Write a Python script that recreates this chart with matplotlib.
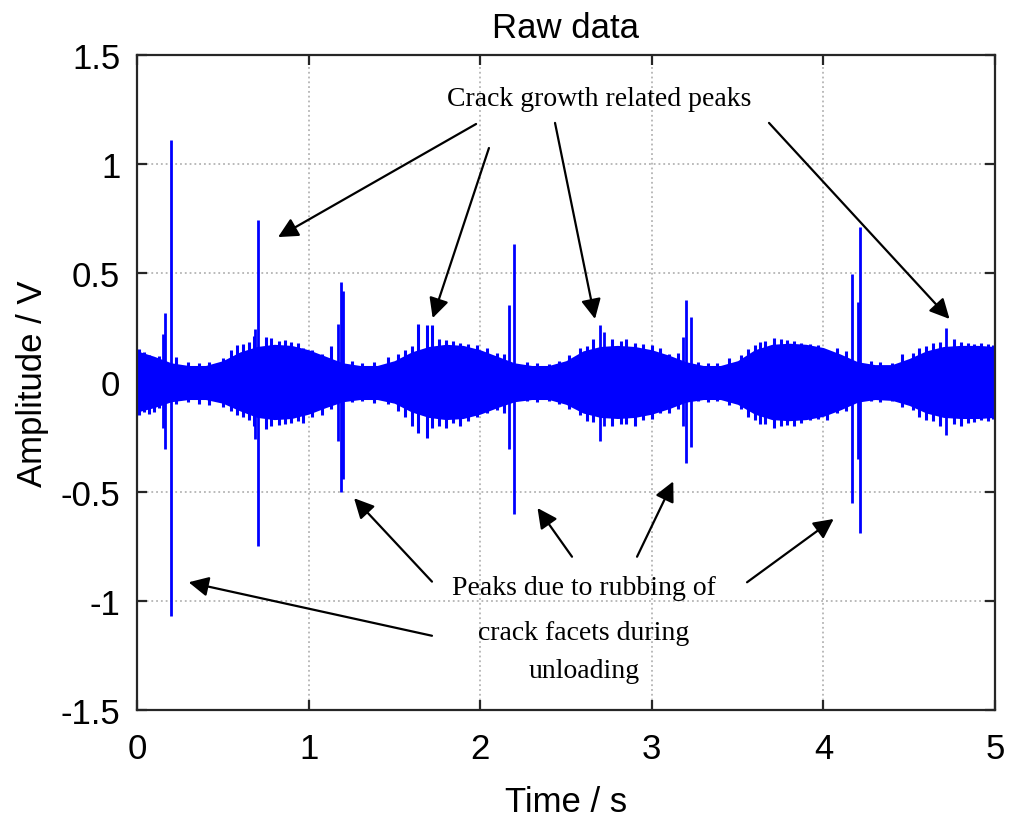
import numpy as np
import matplotlib.pyplot as plt

# envelope of the dense vibration band, sampled every 0.1 s (0 ... 5 s)
t_env = np.round(np.arange(51) * 0.1, 1)
env_hi = [0.145, 0.12, 0.09, 0.078, 0.078, 0.1, 0.14, 0.165, 0.175, 0.17,
          0.15, 0.12, 0.09, 0.078, 0.078, 0.1, 0.14, 0.165, 0.175, 0.17,
          0.15, 0.12, 0.09, 0.078, 0.078, 0.1, 0.145, 0.165, 0.17, 0.165,
          0.15, 0.125, 0.095, 0.078, 0.078, 0.1, 0.15, 0.175, 0.18, 0.175,
          0.16, 0.13, 0.095, 0.082, 0.082, 0.11, 0.145, 0.165, 0.17, 0.17, 0.165]
env_lo = [-0.135, -0.115, -0.088, -0.078, -0.078, -0.095, -0.13, -0.16, -0.17, -0.165,
          -0.145, -0.115, -0.088, -0.078, -0.078, -0.095, -0.135, -0.16, -0.17, -0.165,
          -0.145, -0.115, -0.088, -0.078, -0.078, -0.1, -0.14, -0.16, -0.165, -0.16,
          -0.145, -0.12, -0.09, -0.078, -0.078, -0.1, -0.145, -0.17, -0.175, -0.17,
          -0.155, -0.125, -0.09, -0.078, -0.082, -0.105, -0.14, -0.16, -0.165, -0.165, -0.16]

# small bursts sticking out of the band
burst_t = [0.01, 0.04, 0.07, 0.10, 0.13, 0.23, 0.30, 0.36, 0.42, 0.50, 0.55, 0.58, 0.62, 0.65,
           0.68, 0.75, 0.78, 0.83, 0.86, 0.90, 0.94, 0.97, 1.02, 1.08, 1.13,
           1.25, 1.31, 1.38, 1.46, 1.52, 1.56, 1.60, 1.64, 1.69, 1.72, 1.76, 1.80, 1.84,
           1.88, 1.93, 1.98, 2.04, 2.10, 2.14,
           2.27, 2.33, 2.40, 2.46, 2.52, 2.58, 2.62, 2.66, 2.77, 2.82, 2.85, 2.90, 2.95,
           3.00, 3.05, 3.10, 3.15,
           3.27, 3.33, 3.38, 3.45, 3.52, 3.56, 3.60, 3.63, 3.66, 3.71, 3.75, 3.79, 3.83,
           3.87, 3.92, 3.97, 4.02, 4.08, 4.13,
           4.28, 4.33, 4.40, 4.46, 4.52, 4.56, 4.60, 4.64, 4.68, 4.76, 4.80, 4.84, 4.88,
           4.92, 4.96, 4.99]
burst_hi = [0.155, 0.14, 0.125, 0.11, 0.12, 0.115, 0.095, 0.09, 0.095, 0.11, 0.15, 0.17, 0.175, 0.185,
            0.215, 0.21, 0.205, 0.19, 0.195, 0.185, 0.18, 0.16, 0.15, 0.13, 0.165,
            0.1, 0.09, 0.095, 0.115, 0.13, 0.15, 0.165, 0.268, 0.265, 0.262, 0.2, 0.195, 0.19,
            0.18, 0.175, 0.17, 0.16, 0.135, 0.13,
            0.095, 0.09, 0.085, 0.1, 0.125, 0.16, 0.165, 0.2, 0.2, 0.19, 0.2, 0.18, 0.175,
            0.17, 0.16, 0.13, 0.135,
            0.095, 0.09, 0.09, 0.11, 0.125, 0.155, 0.17, 0.185, 0.19, 0.205, 0.2, 0.195, 0.19,
            0.18, 0.175, 0.17, 0.15, 0.16, 0.145,
            0.1, 0.095, 0.09, 0.13, 0.135, 0.16, 0.165, 0.18, 0.185, 0.2, 0.185, 0.18, 0.175,
            0.18, 0.175, 0.17]
burst_lo = [-0.15, -0.135, -0.145, -0.135, -0.115, -0.1, -0.09, -0.1, -0.105, -0.11, -0.13, -0.15, -0.16, -0.17,
            -0.2, -0.215, -0.2, -0.195, -0.19, -0.185, -0.175, -0.185, -0.16, -0.15, -0.12,
            -0.09, -0.085, -0.095, -0.1, -0.13, -0.16, -0.2, -0.23, -0.255, -0.21, -0.2, -0.21, -0.185,
            -0.2, -0.175, -0.16, -0.14, -0.125, -0.14,
            -0.085, -0.09, -0.085, -0.1, -0.12, -0.15, -0.175, -0.18, -0.2, -0.19, -0.19, -0.2, -0.17,
            -0.165, -0.14, -0.14, -0.12,
            -0.085, -0.09, -0.085, -0.105, -0.12, -0.16, -0.17, -0.19, -0.19, -0.21, -0.2, -0.195, -0.2,
            -0.185, -0.17, -0.165, -0.17, -0.14, -0.13,
            -0.085, -0.09, -0.085, -0.11, -0.125, -0.16, -0.17, -0.175, -0.2, -0.19, -0.2, -0.185, -0.18,
            -0.17, -0.175, -0.165]

# large peaks
peak_t = [0.15, 0.163, 0.20, 0.69, 0.707, 1.17, 1.188, 1.20, 2.168, 2.196, 2.70, 2.72,
          3.18, 3.198, 3.228, 4.168, 4.20, 4.214, 4.715]
peak_hi = [0.22, 0.32, 1.11, 0.245, 0.745, 0.27, 0.46, 0.42, 0.355, 0.635, 0.264, 0.23,
           0.21, 0.38, 0.30, 0.495, 0.37, 0.71, 0.25]
peak_lo = [-0.21, -0.305, -1.07, -0.26, -0.75, -0.27, -0.5, -0.44, -0.305, -0.6, -0.27, -0.2,
           -0.2, -0.37, -0.295, -0.55, -0.35, -0.69, -0.24]

blue = '#0000ff'
sans = ['Liberation Sans', 'DejaVu Sans']
serif = ['Liberation Serif', 'DejaVu Serif']
plt.rcParams['font.family'] = sans

fig = plt.figure(figsize=(10.09, 8.2), dpi=100)
ax = fig.add_axes([137 / 1009, 1 - 711 / 820, 858 / 1009, 655 / 820])

ax.fill_between(t_env, env_lo, env_hi, color=blue, lw=0)
ax.vlines(burst_t, burst_lo, burst_hi, color=blue, lw=2.2)
ax.vlines(peak_t, peak_lo, peak_hi, color=blue, lw=2.0)

ax.set_xlim(0, 5)
ax.set_ylim(-1.5, 1.5)
ax.set_xticks([0, 1, 2, 3, 4, 5])
ax.set_xticklabels(['0', '1', '2', '3', '4', '5'])
ax.set_yticks([-1.5, -1, -0.5, 0, 0.5, 1, 1.5])
ax.set_yticklabels(['-1.5', '-1', '-0.5', '0', '0.5', '1', '1.5'])
ax.set_axisbelow(True)
ax.grid(True, color='#b4b4b4', ls=':', lw=1.3)

for s in ax.spines.values():
    s.set_linewidth(1.6)
    s.set_color('#262626')
ax.tick_params(direction='in', length=7, width=1.6, color='#262626',
               labelsize=25, top=True, right=True)
ax.tick_params(axis='x', pad=16)
ax.tick_params(axis='y', pad=12)

ax.set_title('Raw data', fontsize=25, pad=13)
ax.set_xlabel('Time / s', fontsize=25, labelpad=14)
ax.set_ylabel('Amplitude / V', fontsize=25, labelpad=8)

# annotations
arrow = dict(arrowstyle='-|>', mutation_scale=30, lw=1.6, color='k', shrinkA=0, shrinkB=0)
ax.text(2.692, 1.30, 'Crack growth related peaks', family=serif, fontsize=20,
        ha='center', va='center')
for (x0, y0), (x1, y1) in [((1.976, 1.184), (0.822, 0.666)),
                           ((2.051, 1.074), (1.723, 0.295)),
                           ((2.436, 1.189), (2.669, 0.291)),
                           ((3.683, 1.189), (4.735, 0.291))]:
    ax.annotate('', xy=(x1, y1), xytext=(x0, y0), arrowprops=arrow)

for y, line in [(-0.941, 'Peaks due to rubbing of'),
                (-1.147, 'crack facets during'),
                (-1.317, 'unloading')]:
    ax.text(2.605, y, line, family=serif, fontsize=20, ha='center', va='center')
for (x0, y0), (x1, y1) in [((1.719, -1.160), (0.301, -0.915)),
                           ((1.719, -0.912), (1.265, -0.530)),
                           ((2.535, -0.798), (2.334, -0.575)),
                           ((2.914, -0.798), (3.125, -0.453)),
                           ((3.555, -0.915), (4.060, -0.625))]:
    ax.annotate('', xy=(x1, y1), xytext=(x0, y0), arrowprops=arrow)

fig.savefig('out.png', dpi=100)
